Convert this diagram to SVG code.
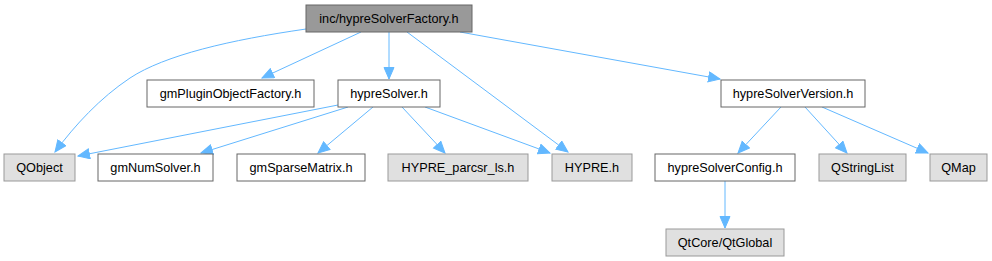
<svg xmlns="http://www.w3.org/2000/svg" width="992" height="261" viewBox="0 0 992 261">
<style>
.n rect{fill:#fff;stroke:#666;stroke-width:1}
.g rect{fill:#e0e0e0;stroke:#999;stroke-width:1}
.r rect{fill:#999;stroke:#666;stroke-width:1}
text{font-family:"Liberation Sans",Arial,sans-serif;font-size:12.7px;fill:#000;text-anchor:middle}
#edges path{fill:none;stroke:#63b8ff;stroke-width:1;marker-end:url(#ah)}
</style>
<defs>
<marker id="ah" markerUnits="userSpaceOnUse" markerWidth="13" markerHeight="12" refX="12" refY="5.5" orient="auto">
<path d="M0.5,0.5 L12,5.5 L0.5,10.5 Z" fill="#63b8ff" stroke="#63b8ff" stroke-width="1"/>
</marker>
</defs>
<rect width="992" height="261" fill="#fff"/>
<g id="edges">
<path d="M306,29 C230,40 165,55 130,78 C100,98 75,125 55,152"/>
<path d="M361,32 L262,78"/>
<path d="M389,32 L389,79"/>
<path d="M407,32 L568,152"/>
<path d="M460,32 L720,79"/>
<path d="M338,105 L78,156"/>
<path d="M348,107 L201,153"/>
<path d="M373,107 L318,153"/>
<path d="M402,107 L445,153"/>
<path d="M425,107 L550,153"/>
<path d="M781,107 L738,153"/>
<path d="M805,107 L847,153"/>
<path d="M822,107 L928,153"/>
<path d="M725,181 L725,228"/>
</g>
<g id="root" class="r"><rect x="306" y="5" width="166" height="27"/><text x="389" y="23">inc/hypreSolverFactory.h</text></g>
<g id="gmPluginObjectFactory" class="n"><rect x="147" y="80" width="167" height="27"/><text x="230.5" y="98">gmPluginObjectFactory.h</text></g>
<g id="hypreSolver" class="n"><rect x="338" y="80" width="102" height="27"/><text x="389" y="98">hypreSolver.h</text></g>
<g id="hypreSolverVersion" class="n"><rect x="721" y="80" width="144" height="27"/><text x="793" y="98">hypreSolverVersion.h</text></g>
<g id="QObject" class="g"><rect x="4" y="154" width="71" height="27"/><text x="39.5" y="172">QObject</text></g>
<g id="gmNumSolver" class="n"><rect x="98" y="154" width="115" height="27"/><text x="155.5" y="172">gmNumSolver.h</text></g>
<g id="gmSparseMatrix" class="n"><rect x="237" y="154" width="128" height="27"/><text x="301" y="172">gmSparseMatrix.h</text></g>
<g id="HYPRE_parcsr_ls" class="g"><rect x="388" y="154" width="140" height="27"/><text x="458" y="172">HYPRE_parcsr_ls.h</text></g>
<g id="HYPRE" class="g"><rect x="552" y="154" width="80" height="27"/><text x="592" y="172">HYPRE.h</text></g>
<g id="hypreSolverConfig" class="n"><rect x="655" y="154" width="140" height="27"/><text x="725" y="172">hypreSolverConfig.h</text></g>
<g id="QStringList" class="g"><rect x="819" y="154" width="87" height="27"/><text x="862.5" y="172">QStringList</text></g>
<g id="QMap" class="g"><rect x="930" y="154" width="57" height="27"/><text x="958.5" y="172">QMap</text></g>
<g id="QtGlobal" class="g"><rect x="666" y="229" width="118" height="27"/><text x="725" y="247">QtCore/QtGlobal</text></g>
</svg>
